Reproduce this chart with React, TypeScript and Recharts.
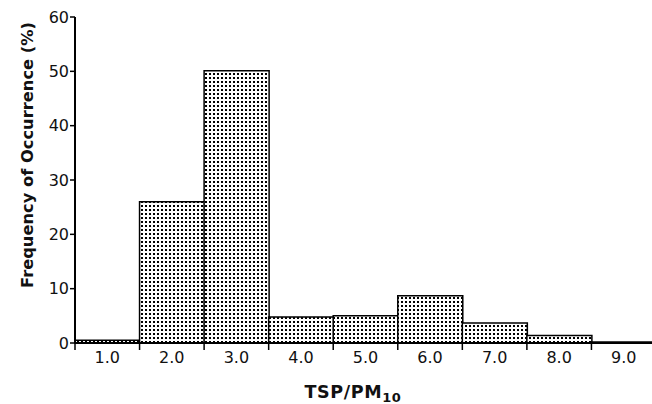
import React from "react";
import { BarChart, Bar, XAxis, YAxis, Label } from "recharts";

const categories = ["1.0", "2.0", "3.0", "4.0", "5.0", "6.0", "7.0", "8.0", "9.0"];
const frequencies = [0.5, 26.0, 50.1, 4.8, 5.0, 8.7, 3.7, 1.4, 0.2];
const yTicks = [0, 10, 20, 30, 40, 50, 60];

const data = categories.map((c, i) => ({ bin: c, freq: frequencies[i] }));

const FONT = "'DejaVu Sans', Arial, Helvetica, sans-serif";
const CHART_W = 660;
const CHART_H = 404;
const Y_AXIS_W = 75;
const MARGIN = { top: 17, right: 4, left: 0, bottom: 0 };
const BAND = (CHART_W - MARGIN.left - MARGIN.right - Y_AXIS_W) / categories.length;

const XTick = (props: any) => {
  const { x, y, payload } = props;
  const axisY = y - 9;
  return (
    <g>
      <line x1={x - BAND / 2} x2={x - BAND / 2} y1={axisY} y2={axisY + 7} stroke="#000" strokeWidth={1.5} />
      <text x={x} y={y} dy="0.71em" textAnchor="middle" fontSize={16} fontFamily={FONT} fill="#111">
        {payload.value}
      </text>
    </g>
  );
};

export default function App() {
  return (
    <div style={{ position: "absolute", left: 0, top: 0, width: 652, height: 404, overflow: "hidden", background: "#fff" }}>
      <svg width={0} height={0} style={{ position: "absolute" }}>
        <defs>
          <pattern id="dots" x={0} y={0} width={4} height={4} patternUnits="userSpaceOnUse">
            <rect x={0} y={0} width={4} height={4} fill="#fff" />
            <rect x={1} y={1} width={2} height={2} fill="#000" />
          </pattern>
        </defs>
      </svg>
      <BarChart width={CHART_W} height={CHART_H} data={data} margin={MARGIN} barCategoryGap={0}>
        <XAxis
          dataKey="bin"
          height={61}
          tickLine={false}
          tickSize={6}
          tickMargin={3}
          axisLine={{ stroke: "#000", strokeWidth: 2 }}
          tick={<XTick />}
          interval={0}
        >
          <Label
            content={() => (
              <text x={353} y={398} textAnchor="middle" fontSize={17.5} fontWeight="bold" fontFamily={FONT} fill="#111" letterSpacing={0.6}>
                TSP/PM
                <tspan fontSize={13} dy={4}>10</tspan>
              </text>
            )}
          />
        </XAxis>
        <YAxis
          width={Y_AXIS_W}
          domain={[0, 60]}
          ticks={yTicks}
          interval={0}
          tickSize={5}
          tickMargin={1}
          axisLine={{ stroke: "#000", strokeWidth: 2 }}
          tickLine={{ stroke: "#000", strokeWidth: 1.5 }}
          tick={{ fontSize: 16, fontFamily: FONT, fill: "#111" }}
        >
          <Label
            content={() => (
              <text
                x={27}
                y={155}
                transform="rotate(-90, 27, 155)"
                textAnchor="middle"
                dominantBaseline="central"
                fontSize={16.3}
                fontWeight="bold"
                fontFamily={FONT}
                fill="#111"
              >
                Frequency of Occurrence (%)
              </text>
            )}
          />
        </YAxis>
        <Bar dataKey="freq" fill="url(#dots)" stroke="#000" strokeWidth={1.5} isAnimationActive={false} />
      </BarChart>
    </div>
  );
}
